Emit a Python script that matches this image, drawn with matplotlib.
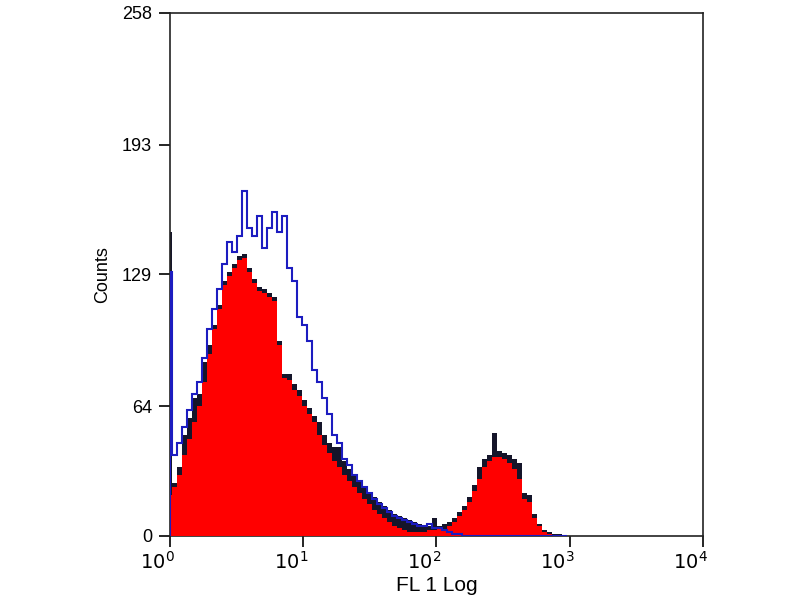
import numpy as np
import matplotlib
matplotlib.use('Agg')
import matplotlib.pyplot as plt
import matplotlib.transforms as mtransforms

plt.rcParams['font.family'] = ['Liberation Sans', 'DejaVu Sans']

# histogram counts per channel, first channel is the pile-up spike at 10^0
red_counts = [20,
    24, 30, 40, 48, 56, 64, 76, 90, 102, 112, 124, 128, 132, 136, 137, 130, 125, 121, 120, 118,
    116, 94, 78, 77, 72, 69, 64, 60, 56, 50, 45, 41, 37, 34, 30, 27, 24, 21, 18, 16,
    13, 11, 9, 7, 5, 4, 3, 2, 2, 2, 2, 3, 3, 4, 3, 5, 7, 10, 13, 17,
    22, 28, 34, 37, 39, 39, 38, 36, 33, 28, 18, 17, 9, 5, 2, 1, 0, 0, 0]
black_counts = [150,
    26, 34, 50, 58, 68, 70, 86, 94, 104, 114, 126, 130, 134, 138, 139, 132, 127, 123, 122, 120,
    118, 96, 80, 80, 75, 72, 67, 63, 59, 56, 50, 46, 44, 44, 37, 33, 30, 27, 24, 21,
    19, 17, 15, 13, 11, 10, 9, 8, 7, 6, 5, 5, 9, 5, 6, 7, 9, 12, 15, 19,
    25, 34, 38, 40, 51, 42, 41, 40, 38, 36, 21, 20, 11, 6, 3, 2, 1, 1, 0]
blue_counts = [130,
    40, 46, 54, 62, 70, 76, 88, 102, 112, 122, 134, 145, 140, 148, 170, 152, 148, 158, 142, 152,
    160, 150, 158, 132, 126, 108, 104, 96, 82, 76, 68, 60, 50, 46, 38, 35, 30, 27, 24, 21,
    18, 16, 14, 12, 10, 9, 8, 7, 6, 5, 5, 6, 4, 4, 3, 2, 1, 1, 0, 0,
    0, 0, 0, 0, 0, 0, 0, 0, 0, 0, 0, 0, 0, 0, 0, 0, 0, 0, 0]

y_ticks = [0, 64, 129, 193, 258]
x_ticks = [1, 10, 100, 1000, 10000]
x_ticklabels = ['$10^0$', '$10^1$', '$10^2$', '$10^3$', '$10^4$']

# channel edges in decades: narrow first channel, then equal log channels
spike_w = 0.015
chan_w = 0.0375
n = len(red_counts)
log_edges = np.concatenate([[0.0], spike_w + chan_w * np.arange(n)])
edges = 10 ** log_edges

fig = plt.figure(figsize=(8, 6), dpi=100)
ax = fig.add_axes([0.2125, 0.1067, 0.666, 0.8717])

# black histogram filled under the red one so it shows as a dark edge
ax.stairs(black_counts, edges, fill=True, color='#15152a', zorder=2)
ax.stairs(red_counts, edges, fill=True, color='#ff0000', zorder=3)
ax.stairs(blue_counts, edges, color='#1c1cc0', lw=1.5, zorder=4)

ax.set_xscale('log')
ax.set_xlim(1, 10000)
ax.set_ylim(0, 258)
ax.set_yticks(y_ticks)
ax.set_yticklabels([str(v) for v in y_ticks], fontsize=13)
ax.set_xticks(x_ticks)
ax.set_xticklabels(x_ticklabels, fontsize=14)
ax.xaxis.set_minor_locator(matplotlib.ticker.NullLocator())
ax.tick_params(axis='both', direction='out', length=8, width=1.2, color='black')
ax.tick_params(axis='x', pad=3)
ax.tick_params(axis='y', pad=5)

# shift x tick labels slightly left like the original
offset = mtransforms.ScaledTranslation(-9 / 72, 0, fig.dpi_scale_trans)
for lab in ax.get_xticklabels():
    lab.set_transform(lab.get_transform() + offset)

for sp in ax.spines.values():
    sp.set_linewidth(1.2)
    sp.set_color('#222222')

ax.set_xlabel('FL 1 Log', fontsize=15, labelpad=2)
ax.set_ylabel('Counts', fontsize=13, labelpad=8)

fig.savefig('out.png', dpi=100)
